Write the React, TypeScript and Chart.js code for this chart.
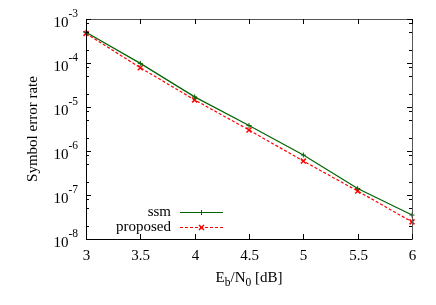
import React, { useEffect, useRef } from "react";
import { Chart, registerables } from "chart.js";

Chart.register(...registerables);

const snrDb = [3, 3.5, 4, 4.5, 5, 5.5, 6];
const ssmSer = [5.0e-4, 9.8e-5, 1.7e-5, 3.8e-6, 8.1e-7, 1.4e-7, 3.5e-8];
const proposedSer = [4.7e-4, 7.8e-5, 1.45e-5, 3.0e-6, 5.9e-7, 1.23e-7, 2.45e-8];
const seriesNames = ["ssm", "proposed"];
const xTicks = [3, 3.5, 4, 4.5, 5, 5.5, 6];
const xTickLabels = ["3", "3.5", "4", "4.5", "5", "5.5", "6"];
const yExponents = [-3, -4, -5, -6, -7, -8];
const yMinorMultipliers = [2, 5, 8];
const yAxisTitle = "Symbol error rate";

const FONT = "'Liberation Serif', 'DejaVu Serif', serif";
const GREEN = "#006400";
const RED = "#ff0000";

const gnuplotPlugin = {
  id: "gnuplotDecor",
  afterDatasetsDraw(chart: any) {
    const ctx = chart.ctx as CanvasRenderingContext2D;
    const { left, right, top, bottom } = chart.chartArea;
    const xs = chart.scales.x;
    const ys = chart.scales.y;
    ctx.save();
    // border
    ctx.lineWidth = 1;
    ctx.strokeStyle = "#000";
    ctx.beginPath();
    ctx.moveTo(left + 0.5, top);
    ctx.lineTo(left + 0.5, bottom + 0.5);
    ctx.lineTo(right + 0.5, bottom + 0.5);
    ctx.stroke();
    ctx.strokeStyle = "#555";
    ctx.beginPath();
    ctx.moveTo(left, top + 0.5);
    ctx.lineTo(right + 0.5, top + 0.5);
    ctx.lineTo(right + 0.5, bottom + 0.5);
    ctx.stroke();

    // x ticks
    ctx.strokeStyle = "#000";
    ctx.fillStyle = "#000";
    ctx.font = `15px ${FONT}`;
    ctx.textAlign = "center";
    ctx.textBaseline = "alphabetic";
    xTicks.forEach((v, i) => {
      const px = Math.round(xs.getPixelForValue(v)) + 0.5;
      ctx.beginPath();
      ctx.moveTo(px, bottom);
      ctx.lineTo(px, bottom - 5);
      ctx.moveTo(px, top);
      ctx.lineTo(px, top + 5);
      ctx.stroke();
      ctx.fillText(xTickLabels[i], px, bottom + 21);
    });

    // y ticks
    yExponents.forEach((e) => {
      const py = Math.round(ys.getPixelForValue(Math.pow(10, e))) + 0.5;
      ctx.beginPath();
      ctx.moveTo(left, py);
      ctx.lineTo(left + 5, py);
      ctx.moveTo(right, py);
      ctx.lineTo(right - 5, py);
      ctx.stroke();
      ctx.font = `15px ${FONT}`;
      const base = "10";
      const exp = String(e);
      const wb = ctx.measureText(base).width;
      ctx.font = `11.5px ${FONT}`;
      const we = ctx.measureText(exp).width;
      const endX = left - 8;
      const startX = endX - wb - we;
      ctx.textAlign = "left";
      ctx.font = `15px ${FONT}`;
      ctx.fillText(base, startX, py + 7);
      ctx.font = `11.5px ${FONT}`;
      ctx.fillText(exp, startX + wb, py - 2.5);
      if (e > -8) {
        yMinorMultipliers.forEach((m) => {
          const my = Math.round(ys.getPixelForValue(m * Math.pow(10, e - 1))) + 0.5;
          ctx.beginPath();
          ctx.moveTo(left, my);
          ctx.lineTo(left + 3, my);
          ctx.moveTo(right, my);
          ctx.lineTo(right - 3, my);
          ctx.stroke();
        });
      }
    });

    // y title
    ctx.save();
    ctx.translate(left - 53, (top + bottom) / 2);
    ctx.rotate(-Math.PI / 2);
    ctx.font = `15px ${FONT}`;
    ctx.textAlign = "center";
    ctx.textBaseline = "middle";
    ctx.fillText(yAxisTitle, 0, 0);
    ctx.restore();

    // x title: E_b/N_0 [dB]
    const parts: [string, boolean][] = [
      ["E", false],
      ["b", true],
      ["/N", false],
      ["0", true],
      [" [dB]", false],
    ];
    let total = 0;
    const widths = parts.map(([t, sub]) => {
      ctx.font = sub ? `11.5px ${FONT}` : `15px ${FONT}`;
      const w = ctx.measureText(t).width;
      total += w;
      return w;
    });
    let cx = (left + right) / 2 - total / 2;
    const baseY = bottom + 43;
    ctx.textAlign = "left";
    parts.forEach(([t, sub], i) => {
      ctx.font = sub ? `11.5px ${FONT}` : `15px ${FONT}`;
      ctx.fillText(t, cx, sub ? baseY + 4 : baseY);
      cx += widths[i];
    });

    // legend
    const ds = chart.data.datasets;
    ds.forEach((d: any, i: number) => {
      const ly = top + 193 + i * 15 + 0.5;
      const textX = left + 85;
      const x0 = left + 94;
      const x1 = left + 137;
      ctx.font = `15px ${FONT}`;
      ctx.textAlign = "right";
      ctx.textBaseline = "middle";
      ctx.fillStyle = "#000";
      ctx.fillText(d.label, textX, ly);
      ctx.strokeStyle = d.borderColor;
      ctx.lineWidth = d.borderWidth;
      ctx.setLineDash(d.borderDash || []);
      ctx.beginPath();
      ctx.moveTo(x0, ly);
      ctx.lineTo(x1, ly);
      ctx.stroke();
      ctx.setLineDash([]);
      const mx = (x0 + x1) / 2;
      const r = d.pointRadius;
      ctx.lineWidth = d.pointBorderWidth;
      ctx.beginPath();
      if (d.pointStyle === "cross") {
        ctx.moveTo(mx - r, ly);
        ctx.lineTo(mx + r, ly);
        ctx.moveTo(mx, ly - r);
        ctx.lineTo(mx, ly + r);
      } else {
        const k = r * 0.7071;
        ctx.moveTo(mx - k, ly - k);
        ctx.lineTo(mx + k, ly + k);
        ctx.moveTo(mx + k, ly - k);
        ctx.lineTo(mx - k, ly + k);
      }
      ctx.stroke();
    });
    ctx.restore();
  },
};

export default function App() {
  const ref = useRef<HTMLCanvasElement | null>(null);
  useEffect(() => {
    document.body.style.margin = "0";
    const canvas = ref.current;
    if (!canvas) return;
    const chart = new Chart(canvas, {
      type: "line",
      data: {
        datasets: [
          {
            label: seriesNames[0],
            data: snrDb.map((x, i) => ({ x, y: ssmSer[i] })),
            borderColor: GREEN,
            backgroundColor: GREEN,
            borderWidth: 1.2,
            pointStyle: "cross",
            pointRadius: 2.5,
            pointBorderWidth: 1,
            pointBorderColor: GREEN,
            tension: 0,
            clip: false,
          } as any,
          {
            label: seriesNames[1],
            data: snrDb.map((x, i) => ({ x, y: proposedSer[i] })),
            borderColor: RED,
            backgroundColor: RED,
            borderWidth: 1.2,
            borderDash: [3, 2],
            pointStyle: "crossRot",
            pointRadius: 3.5,
            pointBorderWidth: 1.5,
            pointBorderColor: RED,
            tension: 0,
            clip: false,
          } as any,
        ],
      },
      options: {
        animation: false,
        responsive: false,
        maintainAspectRatio: false,
        devicePixelRatio: 1,
        layout: { padding: { left: 86, right: 24, top: 19, bottom: 66 } },
        plugins: { legend: { display: false }, tooltip: { enabled: false } },
        events: [],
        scales: {
          x: { type: "linear", min: 3, max: 6, display: false },
          y: { type: "logarithmic", min: 1e-8, max: 1e-3, display: false },
        },
      },
      plugins: [gnuplotPlugin],
    });
    return () => chart.destroy();
  }, []);
  return (
    <div style={{ position: "fixed", left: 0, top: 0, width: 436, height: 305, background: "#fff" }}>
      <canvas ref={ref} width={436} height={305} style={{ width: 436, height: 305 }} />
    </div>
  );
}
